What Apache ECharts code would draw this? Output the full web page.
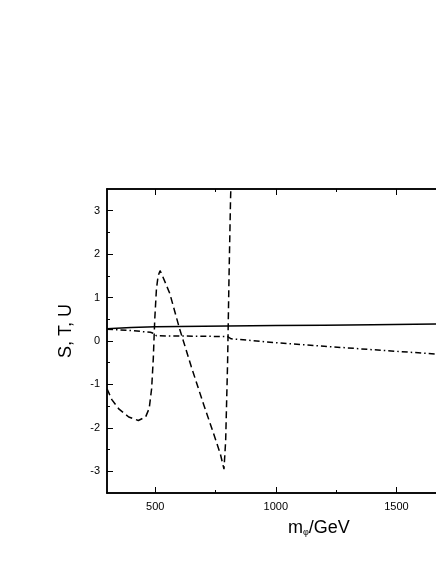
<!DOCTYPE html>
<html>
<head>
<meta charset="utf-8">
<script src="https://cdn.jsdelivr.net/npm/echarts@6/dist/echarts.min.js"></script>
<style>
  html, body {margin: 0; padding: 0; background: #fff;}
  #main {width: 436px; height: 564px;}
</style>
</head>
<body>
<div id="main"></div>
<script>
// S line (solid)
var sX = [300, 400, 500, 600, 800, 1000, 1200, 1400, 1666, 2000];
var sY = [0.28, 0.31, 0.33, 0.335, 0.345, 0.355, 0.365, 0.375, 0.39, 0.40];
// T line (dashed)
var tX = [300, 320, 350, 390, 430, 460, 475, 485, 492, 498, 505, 512, 520, 530, 560, 600, 650, 700, 740, 770, 785, 792, 800, 806, 812, 818];
var tY = [-1.1, -1.35, -1.57, -1.75, -1.83, -1.75, -1.55, -1.1, -0.4, 0.5, 1.2, 1.5, 1.62, 1.5, 1.1, 0.3, -0.6, -1.45, -2.1, -2.6, -2.95, -2.3, -0.5, 1.5, 3.2, 4.5];
// U line (dash-dot)
var uX = [300, 400, 480, 495, 505, 600, 700, 800, 815, 900, 1000, 1200, 1400, 1666, 2000];
var uY = [0.27, 0.24, 0.2, 0.17, 0.12, 0.115, 0.11, 0.1, 0.05, 0.01, -0.04, -0.12, -0.2, -0.3, -0.42];

var xMajor = [500, 1000, 1500, 2000];
var xMinor = [750, 1250, 1750];
var yMajor = [-3, -2, -1, 0, 1, 2, 3];
var yMinor = [-2.5, -1.5, -0.5, 0.5, 1.5, 2.5];

function pairs(xs, ys) {
  var out = [];
  for (var i = 0; i < xs.length; i++) {
    out.push([xs[i], ys[i]]);
  }
  return out;
}

var lineStyleAxis = {color: '#000', width: 1.5};
var labelFont = {color: '#000', fontSize: 11, fontFamily: 'Liberation Sans, Arial, sans-serif'};

function plain(v) {
  return String(v);
}

function xAx(pos, ticks, len, showLabel) {
  return {
    type: 'value', position: pos, min: 300, max: 2000,
    axisLine: {show: true, onZero: false, lineStyle: lineStyleAxis},
    axisTick: {show: true, inside: true, length: len, customValues: ticks, lineStyle: {color: '#000', width: 1}},
    axisLabel: showLabel ? Object.assign({show: true, customValues: ticks, margin: 8, formatter: plain}, labelFont) : {show: false},
    splitLine: {show: false}
  };
}
function yAx(pos, ticks, len, showLabel) {
  return {
    type: 'value', position: pos, min: -3.5, max: 3.5,
    axisLine: {show: true, onZero: false, lineStyle: lineStyleAxis},
    axisTick: {show: true, inside: true, length: len, customValues: ticks, lineStyle: {color: '#000', width: 1}},
    axisLabel: showLabel ? Object.assign({show: true, customValues: ticks, margin: 7, formatter: plain}, labelFont) : {show: false},
    splitLine: {show: false}
  };
}

var myChart = echarts.init(document.getElementById('main'));
myChart.setOption({
  animation: false,
  backgroundColor: '#fff',
  grid: {left: 107, top: 189, width: 410, height: 304, containLabel: false, outerBoundsMode: 'none'},
  xAxis: [
    xAx('bottom', xMajor, 6, true),
    xAx('bottom', xMinor, 3, false),
    xAx('top', xMajor, 6, false),
    xAx('top', xMinor, 3, false)
  ],
  yAxis: [
    yAx('left', yMajor, 6, true),
    yAx('left', yMinor, 3, false),
    yAx('right', yMajor, 6, false),
    yAx('right', yMinor, 3, false)
  ],
  graphic: [
    {
      type: 'text', rotation: Math.PI / 2, x: 57, y: 358,
      style: {text: 'S, T, U', fontSize: 18, fontFamily: 'Liberation Sans, Arial, sans-serif', fill: '#000'}
    },
    {
      type: 'text', x: 288, y: 516,
      style: {
        text: '{m|m}{sub|φ}{m|/GeV}',
        rich: {
          m: {fontSize: 18, fontFamily: 'Liberation Sans, Arial, sans-serif', fill: '#000', verticalAlign: 'bottom'},
          sub: {fontSize: 9, fontFamily: 'Liberation Sans, Arial, sans-serif', fill: '#000', padding: [12, 0, 0, 0], verticalAlign: 'bottom'}
        }
      }
    }
  ],
  series: [
    {
      name: 'S', type: 'line', data: pairs(sX, sY), showSymbol: false, clip: true,
      lineStyle: {color: '#000', width: 1.5, type: 'solid'}
    },
    {
      name: 'T', type: 'line', data: pairs(tX, tY), showSymbol: false, clip: true,
      lineStyle: {color: '#000', width: 1.5, type: [7, 4]}
    },
    {
      name: 'U', type: 'line', data: pairs(uX, uY), showSymbol: false, clip: true,
      lineStyle: {color: '#000', width: 1.5, type: [6, 3, 1.5, 3]}
    }
  ]
});
</script>
</body>
</html>
